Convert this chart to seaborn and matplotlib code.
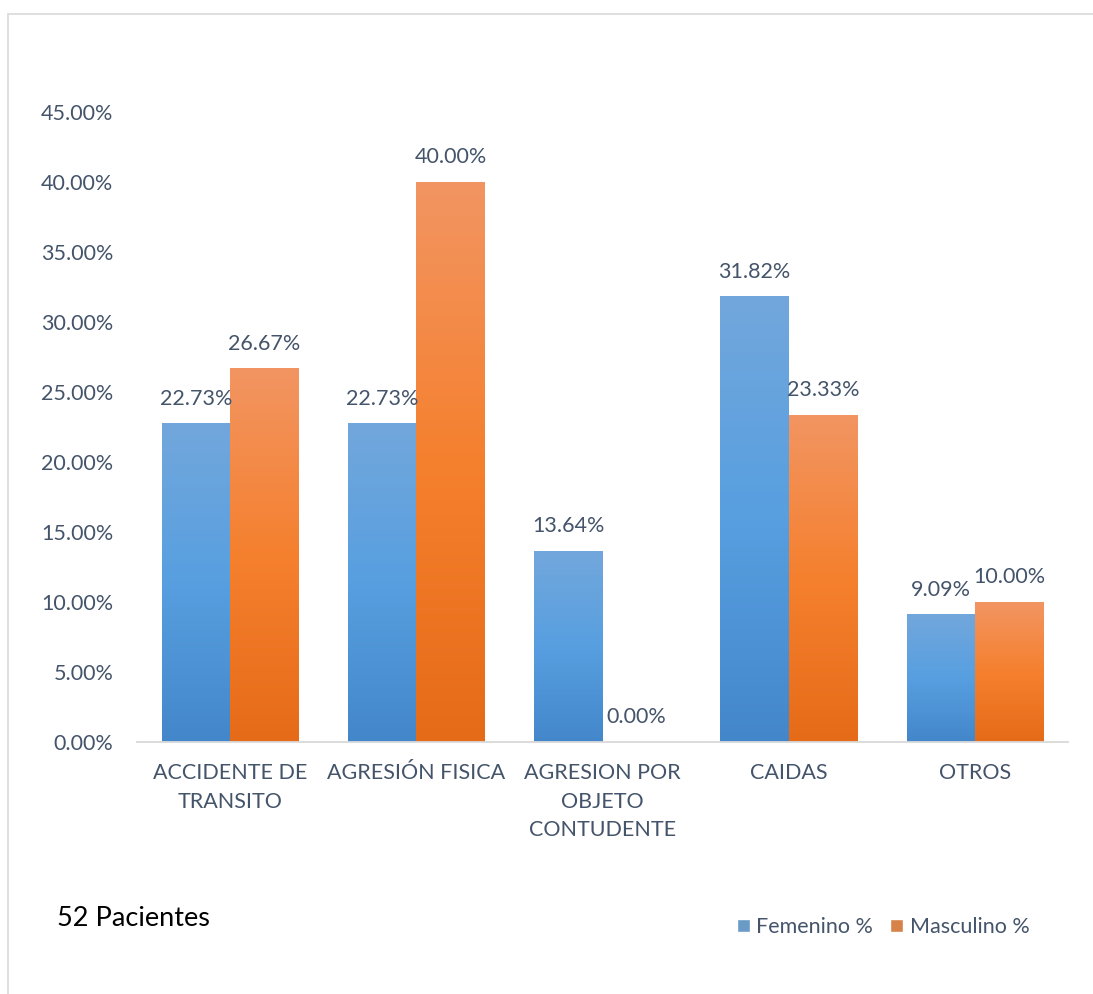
import numpy as np
import pandas as pd
import matplotlib
matplotlib.use("Agg")
import matplotlib.pyplot as plt
from matplotlib.colors import to_rgb
from matplotlib.lines import Line2D
import seaborn as sns

# data
categorias = ["ACCIDENTE DE TRANSITO", "AGRESIÓN FISICA", "AGRESION POR OBJETO CONTUDENTE",
              "CAIDAS", "OTROS"]
etiquetas = ["ACCIDENTE DE\nTRANSITO", "AGRESIÓN FISICA", "AGRESION POR\nOBJETO\nCONTUDENTE",
             "CAIDAS", "OTROS"]
femenino = [22.73, 22.73, 13.64, 31.82, 9.09]
masculino = [26.67, 40.00, 0.00, 23.33, 10.00]
series = ["Femenino %", "Masculino %"]
nota = "52 Pacientes"

df = pd.DataFrame({
    "categoria": categorias * 2,
    "valor": femenino + masculino,
    "serie": [series[0]] * len(categorias) + [series[1]] * len(categorias),
})

TEXT = "#44546A"
# top / middle / bottom colours of the Excel-style gradient fill
grad = {
    series[0]: ["#72A7DC", "#579FE0", "#4387CA"],
    series[1]: ["#F29562", "#F5802E", "#E66B18"],
}
base = {series[0]: "#5B9BD5", series[1]: "#ED7D31"}

sns.set_theme(style="white")
plt.rcParams["font.family"] = ["Lato", "DejaVu Sans"]

fig = plt.figure(figsize=(10.93, 9.94), dpi=100)
ax = fig.add_axes([137 / 1093, 1 - 742 / 994, (1068 - 137) / 1093, (742 - 112) / 994])

sns.barplot(data=df, x="categoria", y="valor", hue="serie", palette=base,
            width=0.734, gap=0, ax=ax, legend=True, zorder=2)


def gradient(cols, n=256):
    stops = np.array([to_rgb(c) for c in cols])
    t = np.linspace(0, 1, n)
    pos = np.linspace(0, 1, len(cols))
    arr = np.stack([np.interp(t, pos, stops[:, k]) for k in range(3)], axis=1)
    return arr[:, None, :]


n = len(categorias)
for i, patch in enumerate(ax.patches[:2 * n]):
    s = series[i // n]
    x0, y0 = patch.get_x(), patch.get_y()
    w, h = patch.get_width(), patch.get_height()
    if h > 0:
        ax.imshow(gradient(grad[s]), extent=[x0, x0 + w, y0, y0 + h],
                  origin="upper", aspect="auto", zorder=2.5, interpolation="bilinear")
    ax.annotate(f"{h:.2f}%", (x0 + w / 2, y0 + h), xytext=(0, 18),
                textcoords="offset points", ha="center", va="center",
                fontsize=15.5, color=TEXT, zorder=4)

ax.set_xlim(-0.5, n - 0.5)
ax.set_ylim(0, 45)
ax.set_yticks(np.arange(0, 46, 5))
ax.set_yticklabels([f"{v:.2f}%" for v in np.arange(0, 46, 5)])
ax.set_xticks(range(n))
ax.set_xticklabels(etiquetas, linespacing=1.55)
ax.tick_params(axis="both", length=0, labelsize=15.5, labelcolor=TEXT)
ax.tick_params(axis="x", pad=15)
ax.tick_params(axis="y", pad=17)
ax.set_xlabel("")
ax.set_ylabel("")
for side in ["top", "right", "left"]:
    ax.spines[side].set_visible(False)
ax.spines["bottom"].set_color("#D9D9D9")
ax.spines["bottom"].set_linewidth(1.3)

handles, labels = ax.get_legend_handles_labels()
ax.get_legend().remove()
fig.legend(handles, labels, loc="center", bbox_to_anchor=(883 / 1093, 1 - 927 / 994),
           ncol=2, frameon=False, fontsize=15.5, handlelength=0.6, handleheight=0.6,
           handletextpad=0.3, columnspacing=0.8, labelcolor=TEXT)

fig.text(57 / 1093, 1 - 918 / 994, nota, fontsize=19.5, color="black", ha="left", va="center")

# light chart-area border (top and left edges visible)
fig.add_artist(Line2D([8 / 1093, 1], [1 - 13.5 / 994] * 2, color="#D9D9D9", lw=1.2,
                      transform=fig.transFigure))
fig.add_artist(Line2D([8 / 1093] * 2, [0, 1 - 13.5 / 994], color="#D9D9D9", lw=1.2,
                      transform=fig.transFigure))

fig.savefig("out.png", dpi=100)
